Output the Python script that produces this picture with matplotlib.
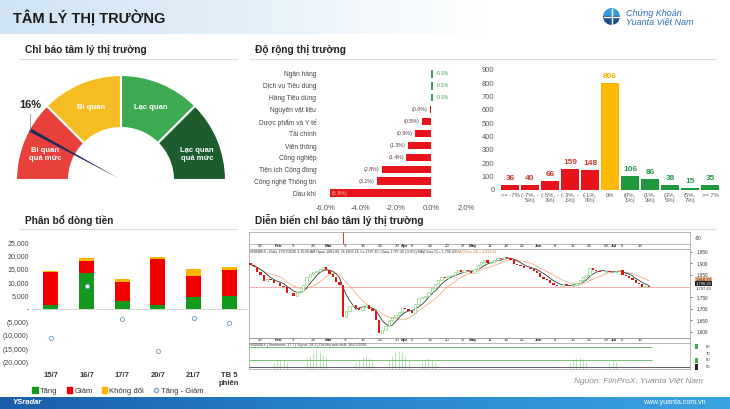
import numpy as np
import pandas as pd
import matplotlib
matplotlib.use("Agg")
import matplotlib.pyplot as plt
from matplotlib.patches import Wedge, Polygon, Patch
from matplotlib.lines import Line2D
from matplotlib.colors import LinearSegmentedColormap
from matplotlib.ticker import FuncFormatter

plt.rcParams['font.family'] = ['Liberation Sans', 'DejaVu Sans']

# ---------------- data ----------------
sentiment_pct = 16
gauge_zones = ['Bi quan\nquá mức', 'Bi quan', 'Lạc quan', 'Lạc quan\nquá mức']
gauge_colors = ['#e8403a', '#f6bd22', '#3caa50', '#1d5c2c']

sectors = ['Ngân hàng', 'Dịch vụ Tiêu dùng', 'Hàng Tiêu dùng', 'Nguyên vật liệu',
           'Dược phẩm và Y tế', 'Tài chính', 'Viễn thông', 'Công nghiệp',
           'Tiện ích Cộng đồng', 'Công nghệ Thông tin', 'Dầu khí']
sector_chg = [0.1, 0.1, 0.1, -0.04, -0.5, -0.9, -1.3, -1.4, -2.8, -3.1, -5.8]

bins = ['<= -7%', '(-7%, -\n5%)', '(-5%, -\n3%)', '(-3%, -\n1%)', '(-1%,\n0%)', '0%',
        '(0%,\n1%)', '(1%,\n3%)', '(3%,\n5%)', '(5%,\n7%)', '>= 7%']
bin_counts = [36, 40, 66, 159, 148, 806, 106, 86, 38, 15, 35]
bin_side = ['down'] * 5 + ['flat'] + ['up'] * 5

flow_days = ['15/7', '16/7', '17/7', '20/7', '21/7', 'TB 5\nphiên']
flow_up = [1500, 13400, 3100, 1400, 4400, 4700]
flow_down = [12200, 4600, 7100, 17400, 8100, 10000]
flow_flat = [600, 1200, 1000, 700, 2600, 1000]
flow_net = [-10700, 8700, -3600, -15600, -3400, -5200]

# VNINDEX daily closes (26/01 -> 17/07)
vn_first_open = 1900
vn_close = [1893, 1885, 1862, 1850, 1822, 1830, 1826, 1815, 1812, 1800,
            1795, 1770, 1768, 1758, 1772, 1780, 1805, 1840, 1852, 1860,
            1866, 1874, 1882, 1870, 1852, 1840, 1818, 1805, 1662, 1690,
            1712, 1718, 1705, 1695, 1708, 1718, 1700, 1690, 1652, 1596,
            1605, 1625, 1650, 1662, 1672, 1688, 1702, 1698, 1692, 1682,
            1720, 1748, 1752, 1756, 1775, 1790, 1810, 1828, 1838, 1835,
            1842, 1848, 1860, 1868, 1862, 1870, 1866, 1858, 1876, 1892,
            1905, 1912, 1900, 1903, 1915, 1924, 1920, 1928, 1924, 1912,
            1898, 1890, 1886, 1880, 1878, 1875, 1866, 1858, 1840, 1832,
            1826, 1815, 1802, 1798, 1800, 1808, 1804, 1800, 1806, 1815,
            1826, 1838, 1848, 1878, 1872, 1866, 1862, 1860, 1864, 1862,
            1860, 1866, 1868, 1848, 1842, 1836, 1826, 1812, 1808, 1795,
            1800, 1797]
vn_last = 1797.40
price_ticks = [1600, 1650, 1700, 1750, 1850, 1900, 1950]
date_pos = [3, 8.5, 13, 19, 23.6, 28.5, 34, 39.4, 44.5, 46.7, 49, 54.5, 59.7,
            64.5, 67.6, 72.7, 77.6, 82.4, 87.6, 92.4, 97.9, 103, 107.9, 110.3,
            112.7, 118.2]
date_lbl = ['26', 'Feb', '9', '23', 'Mar', '9', '16', '23', '30', 'Apr', '6',
            '13', '20', '27', 'May', '11', '18', '25', 'Jun', '8', '15', '22',
            '29', 'Jul', '6', '13']
sent_idx = [7, 8, 9, 10, 11, 17, 18, 19, 20, 21, 22, 23, 32, 33, 34, 35, 36, 37,
            42, 43, 44, 45, 46, 47, 48, 52, 53, 54, 55, 56,
            97, 98, 99, 100, 101, 102, 109, 110, 111]
sent_val = [58, 60, 61, 60, 58, 62, 66, 71, 73, 72, 68, 63, 58, 62, 65, 66, 63, 59,
            60, 66, 71, 74, 72, 67, 61, 58, 62, 63, 61, 57,
            58, 62, 64, 65, 62, 58, 57, 60, 58]

# ---------------- layout helpers (pixel based) ----------------
W, H = 730, 409
fig = plt.figure(figsize=(W / 100, H / 100), dpi=100)
fig.patch.set_facecolor('white')


def box(x0, y0, x1, y1):
    return fig.add_axes([x0 / W, 1 - y1 / H, (x1 - x0) / W, (y1 - y0) / H])


def ftext(x, y, s, **kw):
    fig.text(x / W, 1 - y / H, s, **kw)


def hline(x0, x1, y, **kw):
    fig.add_artist(Line2D([x0 / W, x1 / W], [1 - y / H] * 2,
                          transform=fig.transFigure, **kw))


# header / footer bands
ax = box(0, 0, 730, 34)
cm = LinearSegmentedColormap.from_list('hdr', ['#cfe3f3', '#e4f0f9', '#ffffff', '#ffffff'])
ax.imshow(np.linspace(0, 1, 256).reshape(1, -1), aspect='auto', cmap=cm, extent=[0, 1, 0, 1])
ax.axis('off')
ftext(13, 18, 'TÂM LÝ THỊ TRƯỜNG', fontsize=10.5, fontweight='bold', color='#1b1b1b', va='center')

ax = box(603, 8, 620, 25)
ax.add_patch(Wedge((0, 0), 1, 0, 180, color='#3a9be0'))
ax.add_patch(Wedge((0, 0), 1, 180, 360, color='#1c4f92'))
ax.plot([-1, 1], [0, 0], color='white', lw=1)
ax.plot([0, 0], [-1, 1], color='white', lw=1)
ax.set_xlim(-1.1, 1.1)
ax.set_ylim(-1.1, 1.1)
ax.axis('off')
ftext(626, 13, 'Chứng Khoán', fontsize=6.5, style='italic', color='#2a6fb8', va='center')
ftext(626, 22, 'Yuanta Việt Nam', fontsize=6.5, style='italic', color='#2a6fb8', va='center')

ax = box(0, 397, 730, 409)
cm = LinearSegmentedColormap.from_list('ftr', ['#1a5ea8', '#2a86cf', '#3aa3e0'])
ax.imshow(np.linspace(0, 1, 256).reshape(1, -1), aspect='auto', cmap=cm, extent=[0, 1, 0, 1])
ax.axis('off')
ftext(12, 403, 'YSradar', fontsize=5.5, style='italic', fontweight='bold', color='white', va='center')
ftext(706, 403, 'www.yuanta.com.vn', fontsize=5, color='white', va='center', ha='right')

# panel titles
for x, y, t, x1 in [(25, 50, 'Chỉ báo tâm lý thị trường', 237),
                    (255, 50, 'Độ rộng thị trường', 715),
                    (25, 220, 'Phân bổ dòng tiền', 237),
                    (255, 220, 'Diễn biến chỉ báo tâm lý thị trường', 715)]:
    ftext(x, y, t, fontsize=7.3, fontweight='bold', color='#222222', va='center')
    hline(x - 5, x1, y + 9, color='#d5dde5', lw=0.8)

# ---------------- gauge ----------------
ax = box(0, 60, 240, 200)
ax.set_xlim(0, 240)
ax.set_ylim(0, 140)
ax.set_aspect('equal')
ax.axis('off')
cx, cy, R, r = 121, 20, 105, 52
for k, (name, col) in enumerate(zip(gauge_zones, gauge_colors)):
    t1 = 180 - 45 * (k + 1)
    ax.add_patch(Wedge((cx, cy), R, t1, t1 + 45, width=R - r, facecolor=col,
                       edgecolor='white', lw=1.5))
    mid = np.radians(t1 + 22.5)
    rr = 80 if '\n' in name else 78
    ang = mid + (np.radians(-4) if k == 3 else np.radians(4) if k == 0 else 0)
    ax.text(cx + rr * np.cos(ang), cy + rr * np.sin(ang), name, ha='center', va='center',
            fontsize=5.5, color='white', fontweight='bold', linespacing=1.3)
th = np.radians(180 * (1 - sentiment_pct / 100))
tip = np.array([cx + 104 * np.cos(th), cy + 104 * np.sin(th)])
perp = np.array([-np.sin(th), np.cos(th)]) * 1.7
ax.add_patch(Polygon([[cx - 3, cy + 2], tip + perp, tip - perp], closed=True,
                     facecolor='#1f2a5e', edgecolor='none'))
ax.plot([tip[0], tip[0]], [tip[1], tip[1] + 16], color='#999999', lw=0.6)
ax.text(tip[0], tip[1] + 20, f'{sentiment_pct}%', ha='center', va='bottom',
        fontsize=8, fontweight='bold', color='#222222')

# ---------------- sector breadth ----------------
ax = box(326, 68, 466, 199)
ypos = np.arange(len(sectors))
cols = ['#3e9e52' if v > 0 else '#e8141b' for v in sector_chg]
ax.barh(ypos, sector_chg, height=0.62, color=cols)
for yv, v in zip(ypos, sector_chg):
    if v > 0:
        ax.text(v + 0.25, yv, f'{v:.1f}%', va='center', ha='left', fontsize=3.8, color='#3e9e52')
    elif v > -5:
        ax.text(v - 0.15, yv, f'({abs(v):.1f}%)', va='center', ha='right', fontsize=3.8, color='#5a3a3a')
    else:
        # the longest bar's label sits on the bar, as in the source
        ax.text(v + 0.1, yv, f'({abs(v):.1f}%)', va='center', ha='left', fontsize=3.8, color='#f6c0c0')
ax.set_yticks(ypos)
ax.set_yticklabels(sectors, fontsize=4.8, color='#444444')
ax.invert_yaxis()
ax.set_xlim(-6, 2)
ax.set_ylim(len(sectors) - 0.5, -0.5)
ax.set_xticks([-6, -4, -2, 0, 2])
ax.xaxis.set_major_formatter(FuncFormatter(lambda v, p: f'{v:.1f}%'))
ax.tick_params(axis='x', labelsize=5.5, labelcolor='#555555', length=0, pad=4)
ax.tick_params(axis='y', length=0, pad=7)
for s in ax.spines.values():
    s.set_visible(False)

# ---------------- distribution histogram ----------------
ax = box(500, 70, 720, 190)
pal = {'down': '#e8141b', 'flat': '#fbb900', 'up': '#1e9a3c'}
txt = {'down': '#c23a2c', 'flat': '#f2b300', 'up': '#2a9a4c'}
xb = np.arange(len(bins))
ax.bar(xb, bin_counts, width=0.9, color=[pal[s] for s in bin_side])
for x, v, s in zip(xb, bin_counts, bin_side):
    ax.text(x, v + 22, str(v), ha='center', va='bottom', fontsize=6,
            fontweight='bold', color=txt[s])
ax.set_xlim(-0.5, len(bins) - 0.5)
ax.set_ylim(0, 900)
ax.set_yticks(range(0, 901, 100))
ax.set_xticks(xb)
ax.set_xticklabels(bins, fontsize=4.2, color='#555555', linespacing=1.1)
ax.tick_params(axis='y', labelsize=5.5, labelcolor='#555555', length=0, pad=4)
ax.tick_params(axis='x', length=0, pad=2)
for s in ax.spines.values():
    s.set_visible(False)

# ---------------- money flow ----------------
ax = box(33, 238, 247, 366)
xf = np.arange(len(flow_days))
up = np.array(flow_up)
dn = np.array(flow_down)
ax.axhline(0, color='#d0d0d0', lw=0.6, zorder=0)
ax.bar(xf, up, width=0.42, color='#139a1c')
ax.bar(xf, dn, width=0.42, bottom=up, color='#f20000')
ax.bar(xf, flow_flat, width=0.42, bottom=up + dn, color='#ffb400')
ax.scatter(xf, flow_net, s=9, facecolor='white', edgecolor='#7fa6c4', lw=0.7, zorder=3)
ax.set_xlim(-0.5, len(flow_days) - 0.5)
ax.set_ylim(-21350, 26600)
ax.set_yticks(range(-20000, 25001, 5000))


def kfmt(v, p):
    if v == 0:
        return '-'
    return f'({abs(v):,.0f})' if v < 0 else f'{v:,.0f}'


ax.yaxis.set_major_formatter(FuncFormatter(kfmt))
ax.set_xticks(xf)
ax.set_xticklabels(flow_days, fontsize=5.5, color='#333333', fontweight='bold', linespacing=1.3)
ax.tick_params(axis='y', labelsize=5, labelcolor='#444444', length=0, pad=3)
ax.tick_params(axis='x', length=0, pad=4)
for s in ax.spines.values():
    s.set_visible(False)
handles = [Patch(color='#139a1c', label='Tăng'), Patch(color='#f20000', label='Giảm'),
           Patch(color='#ffb400', label='Không đổi'),
           Line2D([], [], ls='none', marker='o', ms=3, mfc='white', mec='#7fa6c4', label='Tăng - Giảm')]
fig.legend(handles=handles, loc='center', bbox_to_anchor=(118 / W, 1 - 391 / H), ncol=4,
           fontsize=5.5, frameon=False, handlelength=0.7, handleheight=0.7,
           handletextpad=0.3, columnspacing=1.2, labelcolor='#333333')

# ---------------- VNINDEX sentiment chart ----------------
xl = (-0.5, 133.5)
closes = np.array(vn_close, dtype=float)
opens = np.r_[vn_first_open, closes[:-1]]
xi = np.arange(len(closes))
frame = '#9a9a9a'


def frame_ax(a):
    a.set_xlim(*xl)
    a.set_xticks([])
    a.set_yticks([])
    for s in a.spines.values():
        s.set_color(frame)
        s.set_linewidth(0.5)


# top strip
ax = box(249, 232, 690, 244)
frame_ax(ax)
ax.set_ylim(0, 1)
ax.plot([28, 28], [0.1, 1], color='#e03030', lw=0.7)
ax.text(1.01, 0.5, '-80', transform=ax.transAxes, fontsize=3.3, color='#333333', va='center')

# date strips
for y0, y1 in [(244, 248.5), (338, 342.5)]:
    ax = box(249, y0, 690, y1)
    frame_ax(ax)
    ax.set_ylim(0, 1)
    for p, l in zip(date_pos, date_lbl):
        ax.text(p, 0.45, l, fontsize=3.1, ha='center', va='center', color='#222222',
                fontweight='bold' if l.isalpha() else 'normal')

# main candles
ax = box(249, 248.5, 690, 338)
frame_ax(ax)
ax.set_ylim(1572, 1964)
is_up = closes >= opens
bot = np.minimum(opens, closes)
hgt = np.maximum(np.abs(closes - opens), 1.5)
ax.bar(xi[is_up], hgt[is_up], bottom=bot[is_up], width=0.7, facecolor='white',
       edgecolor='#86d486', lw=0.5, zorder=3)
ax.bar(xi[~is_up], hgt[~is_up], bottom=bot[~is_up], width=0.7, color='#e01414', lw=0, zorder=3)
s = pd.Series(closes)
ax.plot(xi, s.rolling(10, min_periods=1).mean(), color='#f2b184', lw=0.6, zorder=2)
ax.plot(xi, s.rolling(5, min_periods=1).mean(), color='#2f3a2f', lw=0.6, zorder=2)
ax.axhline(vn_last, color='#f3a3a3', lw=0.6, zorder=1)
ax.yaxis.tick_right()
ax.set_yticks(price_ticks)
ax.yaxis.set_major_formatter(FuncFormatter(lambda v, p: f'{v:,.0f}'))
ax.tick_params(axis='y', labelsize=3.3, labelcolor='#333333', length=1.5, width=0.4, pad=3)
ax.text(0.003, 0.985, 'VNINDEX - Daily 17/07/2026 9:15:00 AM Open 1801.89, Hi 1803.14, '
        'Lo 1787.40, Close 1797.40 (-0.8%) MA(Close,5) = 1,796.20', transform=ax.transAxes,
        fontsize=2.6, va='top', color='#333333')
ax.text(0.47, 0.985, 'MA(Close,10) = 1,818.33', transform=ax.transAxes,
        fontsize=2.6, va='top', color='#d08040')
ax.text(1.012, 0.655, '1,818.33', transform=ax.transAxes, fontsize=3, va='center',
        color='#222222', bbox=dict(boxstyle='square,pad=0.12', fc='#f4b183', ec='none'))
ax.text(1.012, 0.61, '1,796.20', transform=ax.transAxes, fontsize=3, va='center',
        color='white', bbox=dict(boxstyle='square,pad=0.12', fc='#222222', ec='none'))
ax.text(1.012, vn_last, f'{vn_last:,.2f}', transform=ax.get_yaxis_transform(),
        fontsize=3, va='top', color='#333333')

# sentiment panel
ax = box(249, 342.5, 690, 369)
frame_ax(ax)
ax.set_ylim(47.2, 86.2)
ax.vlines(sent_idx, 47.2, sent_val, color='#9ad89a', lw=0.5)
ax.hlines([80, 60], -0.5, 122, color='#5cb85c', lw=0.6)
ax.axhline(50, color='#444444', lw=0.6)
ax.text(0.003, 0.97, 'VNINDEX | Sentiment: 17.7 | Signal: 28.2 | Dữ liệu mới nhất: 16/07/2026',
        transform=ax.transAxes, fontsize=2.6, va='top', color='#333333')
tr = ax.get_yaxis_transform()
for lv, fc in [(80, '#3caa50'), (70, None), (60, '#3caa50'), (50, '#222222')]:
    if fc:
        ax.text(1.012, lv, '  ', transform=tr, fontsize=3, va='center',
                bbox=dict(boxstyle='square,pad=0.15', fc=fc, ec='none'))
    ax.text(1.035, lv, str(lv), transform=tr, fontsize=3, va='center', color='#333333')

ftext(703, 381, 'Nguồn: FiinProX, Yuanta Việt Nam', fontsize=6, style='italic',
      color='#8a8a8a', ha='right', va='center')

fig.savefig('out.png', dpi=100)
